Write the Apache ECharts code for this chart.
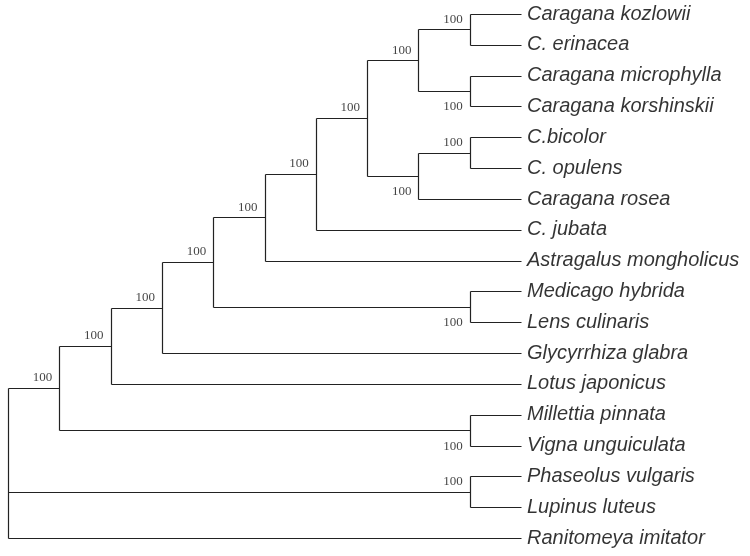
<!DOCTYPE html>
<html>
<head>
<meta charset="utf-8">
<script src="https://cdn.jsdelivr.net/npm/echarts@6/dist/echarts.min.js"></script>
<style>html,body{margin:0;padding:0;background:#fff}#c{width:750px;height:556px}</style>
</head>
<body>
<div id="c"></div>
<script>
// Leaf taxa in drawing order (top to bottom)
const taxa = [
  'Caragana kozlowii', 'C. erinacea', 'Caragana microphylla', 'Caragana korshinskii',
  'C.bicolor', 'C. opulens', 'Caragana rosea', 'C. jubata', 'Astragalus mongholicus',
  'Medicago hybrida', 'Lens culinaris', 'Glycyrrhiza glabra', 'Lotus japonicus',
  'Millettia pinnata', 'Vigna unguiculata', 'Phaseolus vulgaris', 'Lupinus luteus',
  'Ranitomeya imitator'
];
// Internal clades: children are taxon indices (numbers) or clade ids ('cN')
const cladeChildren = [
  [0, 1],            // c0
  [2, 3],            // c1
  ['c0', 'c1'],      // c2
  [4, 5],            // c3
  ['c3', 6],         // c4
  ['c2', 'c4'],      // c5
  ['c5', 7],         // c6
  ['c6', 8],         // c7
  [9, 10],           // c8
  ['c7', 'c8'],      // c9
  ['c9', 11],        // c10
  ['c10', 12],       // c11
  [13, 14],          // c12
  ['c11', 'c12'],    // c13
  [15, 16],          // c14
  ['c13', 'c14', 17] // c15 (root)
];
// Bootstrap support per clade (root has none)
const support = [100, 100, 100, 100, 100, 100, 100, 100, 100, 100, 100, 100, 100, 100, 100, null];

// ---- derive cladogram layout (depth levels & leaf rows) ----
const heightOf = {};
function h(ref) {
  if (typeof ref === 'number') return 0;
  if (heightOf[ref] !== undefined) return heightOf[ref];
  const i = +ref.slice(1);
  const v = 1 + Math.max(...cladeChildren[i].map(h));
  heightOf[ref] = v; return v;
}
const rootRef = 'c' + (cladeChildren.length - 1);
const maxH = h(rootRef);
const posOf = {};
function pos(ref) {
  if (typeof ref === 'number') return [maxH, ref];
  if (posOf[ref]) return posOf[ref];
  const ch = cladeChildren[+ref.slice(1)].map(pos);
  const p = [maxH - h(ref), (ch[0][1] + ch[ch.length - 1][1]) / 2];
  posOf[ref] = p; return p;
}
const segments = [];
const supportPts = [];
cladeChildren.forEach((ch, i) => {
  const p = pos('c' + i);
  const cp = ch.map(pos);
  segments.push([p[0], cp[0][1], p[0], cp[cp.length - 1][1]]);
  cp.forEach((c, k) => {
    segments.push([p[0], c[1], c[0], c[1]]);
    if (typeof ch[k] === 'string') {
      const j = +ch[k].slice(1);
      if (support[j] != null) {
        const below = (k === ch.length - 1);
        supportPts.push({ value: [c[0], c[1], support[j]], below: below });
      }
    }
  });
});
const leafPts = taxa.map((t, i) => [maxH, i, t]);

const chart = echarts.init(document.getElementById('c'), null, { renderer: 'canvas' });
chart.setOption({
  animation: false,
  backgroundColor: '#ffffff',
  grid: { left: 8, top: 14, width: 513, height: 524 },
  xAxis: { type: 'value', min: 0, max: maxH, show: false },
  yAxis: { type: 'value', min: 0, max: taxa.length - 1, inverse: true, show: false },
  series: [
    {
      type: 'custom',
      data: segments,
      encode: { x: [0, 2], y: [1, 3] },
      renderItem: function (params, api) {
        const a = api.coord([api.value(0), api.value(1)]);
        const b = api.coord([api.value(2), api.value(3)]);
        const r = v => Math.round(v) + 0.5;
        return {
          type: 'line',
          shape: { x1: r(a[0]), y1: r(a[1]), x2: r(b[0]), y2: r(b[1]) },
          style: { stroke: '#222', lineWidth: 1.2 }
        };
      },
      silent: true
    },
    {
      type: 'scatter',
      data: leafPts,
      symbolSize: 0,
      silent: true,
      label: {
        show: true, position: 'right', distance: 6,
        formatter: p => p.value[2],
        fontFamily: 'Liberation Sans, Arial, sans-serif',
        fontStyle: 'italic', fontSize: 20, color: '#000'
      }
    },
    {
      type: 'scatter',
      data: supportPts.map(s => ({
        value: s.value,
        label: { offset: [0, s.below ? 16 : -10] }
      })),
      symbolSize: 0,
      silent: true,
      label: {
        show: true, position: 'left', distance: 7,
        formatter: p => String(p.value[2]),
        fontFamily: 'Liberation Serif, Times New Roman, serif',
        fontSize: 13, color: '#111'
      }
    }
  ]
});
</script>
</body>
</html>
